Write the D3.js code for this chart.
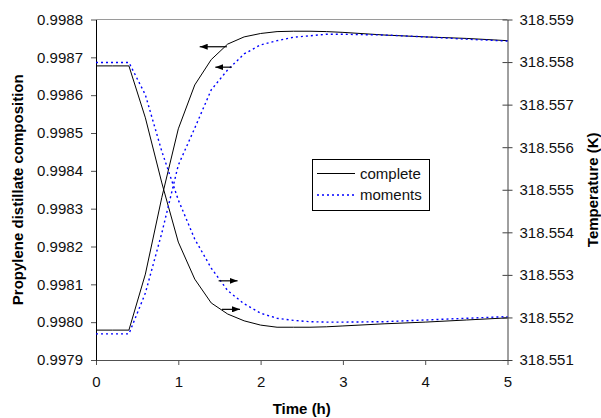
<!DOCTYPE html>
<html>
<head>
<meta charset="utf-8">
<script src="https://cdn.jsdelivr.net/npm/d3@7"></script>
<style>
    body { margin: 0; background: white; }
    svg { font-family: Arial, 'Liberation Sans', sans-serif; }
</style>
</head>
<body>
<div id="chart"></div>
<script>
// time axis (h)
const time = [0, 0.2, 0.4, 0.6, 0.8, 1.0, 1.2, 1.4, 1.6, 1.8, 2.0, 2.2, 2.4, 2.6, 2.8, 3.0, 3.5, 4.0, 4.5, 5.0];

// propylene distillate composition (left axis)
const compComplete = [0.997979, 0.997979, 0.997979, 0.998127, 0.998330, 0.998511, 0.998627, 0.998694, 0.998735, 0.998754,
                      0.998763, 0.998768, 0.998769, 0.998769, 0.998768, 0.998766, 0.998759, 0.998754, 0.998750, 0.998744];
const compMoments  = [0.997969, 0.997969, 0.997969, 0.998077, 0.998236, 0.998415, 0.998513, 0.998614, 0.998667, 0.998709,
                      0.998733, 0.998744, 0.998753, 0.998757, 0.998761, 0.998761, 0.998759, 0.998754, 0.998748, 0.998743];

// temperature in K (right axis)
const tempComplete = [318.55791, 318.55791, 318.55791, 318.55669, 318.55516, 318.55377, 318.55290, 318.55234, 318.55208, 318.55192,
                      318.55182, 318.55177, 318.55177, 318.55177, 318.55178, 318.55180, 318.55185, 318.55189, 318.55194, 318.55199];
const tempMoments  = [318.55799, 318.55799, 318.55799, 318.55723, 318.55590, 318.55476, 318.55384, 318.55316, 318.55263, 318.55232,
                      318.55210, 318.55198, 318.55193, 318.55190, 318.55189, 318.55189, 318.55190, 318.55194, 318.55198, 318.55202];

const xTicks = [0, 1, 2, 3, 4, 5];
const leftTicks = [0.9979, 0.9980, 0.9981, 0.9982, 0.9983, 0.9984, 0.9985, 0.9986, 0.9987, 0.9988];
const rightTicks = [318.551, 318.552, 318.553, 318.554, 318.555, 318.556, 318.557, 318.558, 318.559];

// arrows telling which axis a curve belongs to: [t tail, t tip, value, axis]
const arrows = [
    [1.59, 1.26, 0.998728, 'left'],
    [1.65, 1.45, 0.998674, 'left'],
    [1.49, 1.72, 318.55286, 'right'],
    [1.53, 1.75, 318.55219, 'right']
];

const legendNames = ['complete', 'moments'];

const W = 601, H = 418;
const plot = { left: 96, right: 507.5, top: 19.5, bottom: 360 };

const x = d3.scaleLinear().domain([0, 5]).range([plot.left, plot.right]);
const yL = d3.scaleLinear().domain([0.9979, 0.9988]).range([plot.bottom, plot.top]);
const yR = d3.scaleLinear().domain([318.551, 318.559]).range([plot.bottom, plot.top]);

const svg = d3.select('#chart').append('svg')
              .attr('width', W)
              .attr('height', H);

svg.append('defs').append('marker')
    .attr('id', 'head')
    .attr('markerUnits', 'userSpaceOnUse')
    .attr('viewBox', '0 0 8 6')
    .attr('refX', 8)
    .attr('refY', 3)
    .attr('markerWidth', 8)
    .attr('markerHeight', 6)
    .attr('orient', 'auto')
    .append('path')
        .attr('d', 'M0,0 L8,3 L0,6 Z')
        .style('fill', 'black');

// axes
const axisX = d3.axisBottom(x).tickValues(xTicks).tickFormat(d3.format('d'))
                .tickSize(5).tickSizeOuter(0).tickPadding(11);
const axisL = d3.axisLeft(yL).tickValues(leftTicks).tickFormat(d3.format('.4f'))
                .tickSize(5).tickSizeOuter(0).tickPadding(8);
const axisR = d3.axisRight(yR).tickValues(rightTicks).tickFormat(d3.format('.3f'))
                .tickSize(5).tickSizeOuter(0).tickPadding(7);

svg.append('line')
    .attr('x1', plot.left).attr('x2', plot.right)
    .attr('y1', plot.top).attr('y2', plot.top)
    .style('stroke', '#9a9a9a');

svg.append('g')
    .attr('transform', 'translate(0, ' + plot.bottom + ')')
    .call(axisX)
    .call(g => g.select('.domain').style('stroke', '#505050'))
    .call(g => g.selectAll('line').style('stroke', '#505050'));

svg.append('g')
    .attr('transform', 'translate(' + plot.left + ', 0)')
    .call(axisL)
    .call(g => g.selectAll('line').style('stroke', '#505050'));

svg.append('g')
    .attr('transform', 'translate(' + plot.right + ', 0)')
    .call(axisR)
    .call(g => g.select('.domain').style('stroke', '#404040'))
    .call(g => g.selectAll('line').style('stroke', '#404040'));

// inner half of the right axis cross ticks
svg.append('g')
    .attr('transform', 'translate(' + plot.right + ', 0)')
    .call(d3.axisLeft(yR).tickValues(rightTicks).tickFormat('').tickSize(5).tickSizeOuter(0))
    .call(g => g.select('.domain').remove())
    .call(g => g.selectAll('line').style('stroke', '#404040'));

svg.selectAll('.tick text')
    .style('font-size', '15px')
    .style('fill', '#111');

// curves
const lineL = d3.line().x((d, i) => x(time[i])).y(d => yL(d));
const lineR = d3.line().x((d, i) => x(time[i])).y(d => yR(d));

const series = [
    { values: compComplete, line: lineL, dash: null },
    { values: tempComplete, line: lineR, dash: null },
    { values: compMoments, line: lineL, dash: '2,3' },
    { values: tempMoments, line: lineR, dash: '2,3' }
];

svg.selectAll('path.curve')
    .data(series)
    .enter()
    .append('path')
        .attr('class', 'curve')
        .attr('d', d => d.line(d.values))
        .style('fill', 'none')
        .style('stroke', d => d.dash ? '#0000ff' : '#000')
        .style('stroke-width', d => d.dash ? 1.4 : 1)
        .style('stroke-dasharray', d => d.dash);

svg.selectAll('line.arrow')
    .data(arrows)
    .enter()
    .append('line')
        .attr('class', 'arrow')
        .attr('x1', d => x(d[0]))
        .attr('x2', d => x(d[1]))
        .attr('y1', d => (d[3] == 'left' ? yL : yR)(d[2]))
        .attr('y2', d => (d[3] == 'left' ? yL : yR)(d[2]))
        .style('stroke', 'black')
        .style('stroke-width', 1.2)
        .attr('marker-end', 'url(#head)');

// legend
const legend = svg.append('g');
legend.append('rect')
    .attr('x', 312.5).attr('y', 159.5)
    .attr('width', 117).attr('height', 51)
    .style('fill', 'white')
    .style('stroke', 'black');

legendNames.forEach((name, i) => {
    const y = 173.5 + i * 21.5;
    legend.append('line')
        .attr('x1', 317).attr('x2', 355)
        .attr('y1', y).attr('y2', y)
        .style('stroke', i ? '#0000ff' : '#000')
        .style('stroke-width', i ? 1.4 : 1)
        .style('stroke-dasharray', i ? '2,3' : null);
    legend.append('text')
        .attr('x', 360)
        .attr('y', y + 5)
        .style('font-size', '15px')
        .style('fill', '#111')
        .text(name);
});

// axis titles
svg.append('text')
    .attr('x', (plot.left + plot.right) / 2)
    .attr('y', 414)
    .attr('text-anchor', 'middle')
    .style('font-size', '15px')
    .style('font-weight', 'bold')
    .text('Time (h)');

svg.append('text')
    .attr('transform', 'translate(23, ' + (plot.top + plot.bottom) / 2 + ') rotate(-90)')
    .attr('text-anchor', 'middle')
    .style('font-size', '15px')
    .style('font-weight', 'bold')
    .text('Propylene distillate composition');

svg.append('text')
    .attr('transform', 'translate(598, ' + (plot.top + plot.bottom) / 2 + ') rotate(-90)')
    .attr('text-anchor', 'middle')
    .style('font-size', '15px')
    .style('font-weight', 'bold')
    .text('Temperature (K)');
</script>
</body>
</html>
